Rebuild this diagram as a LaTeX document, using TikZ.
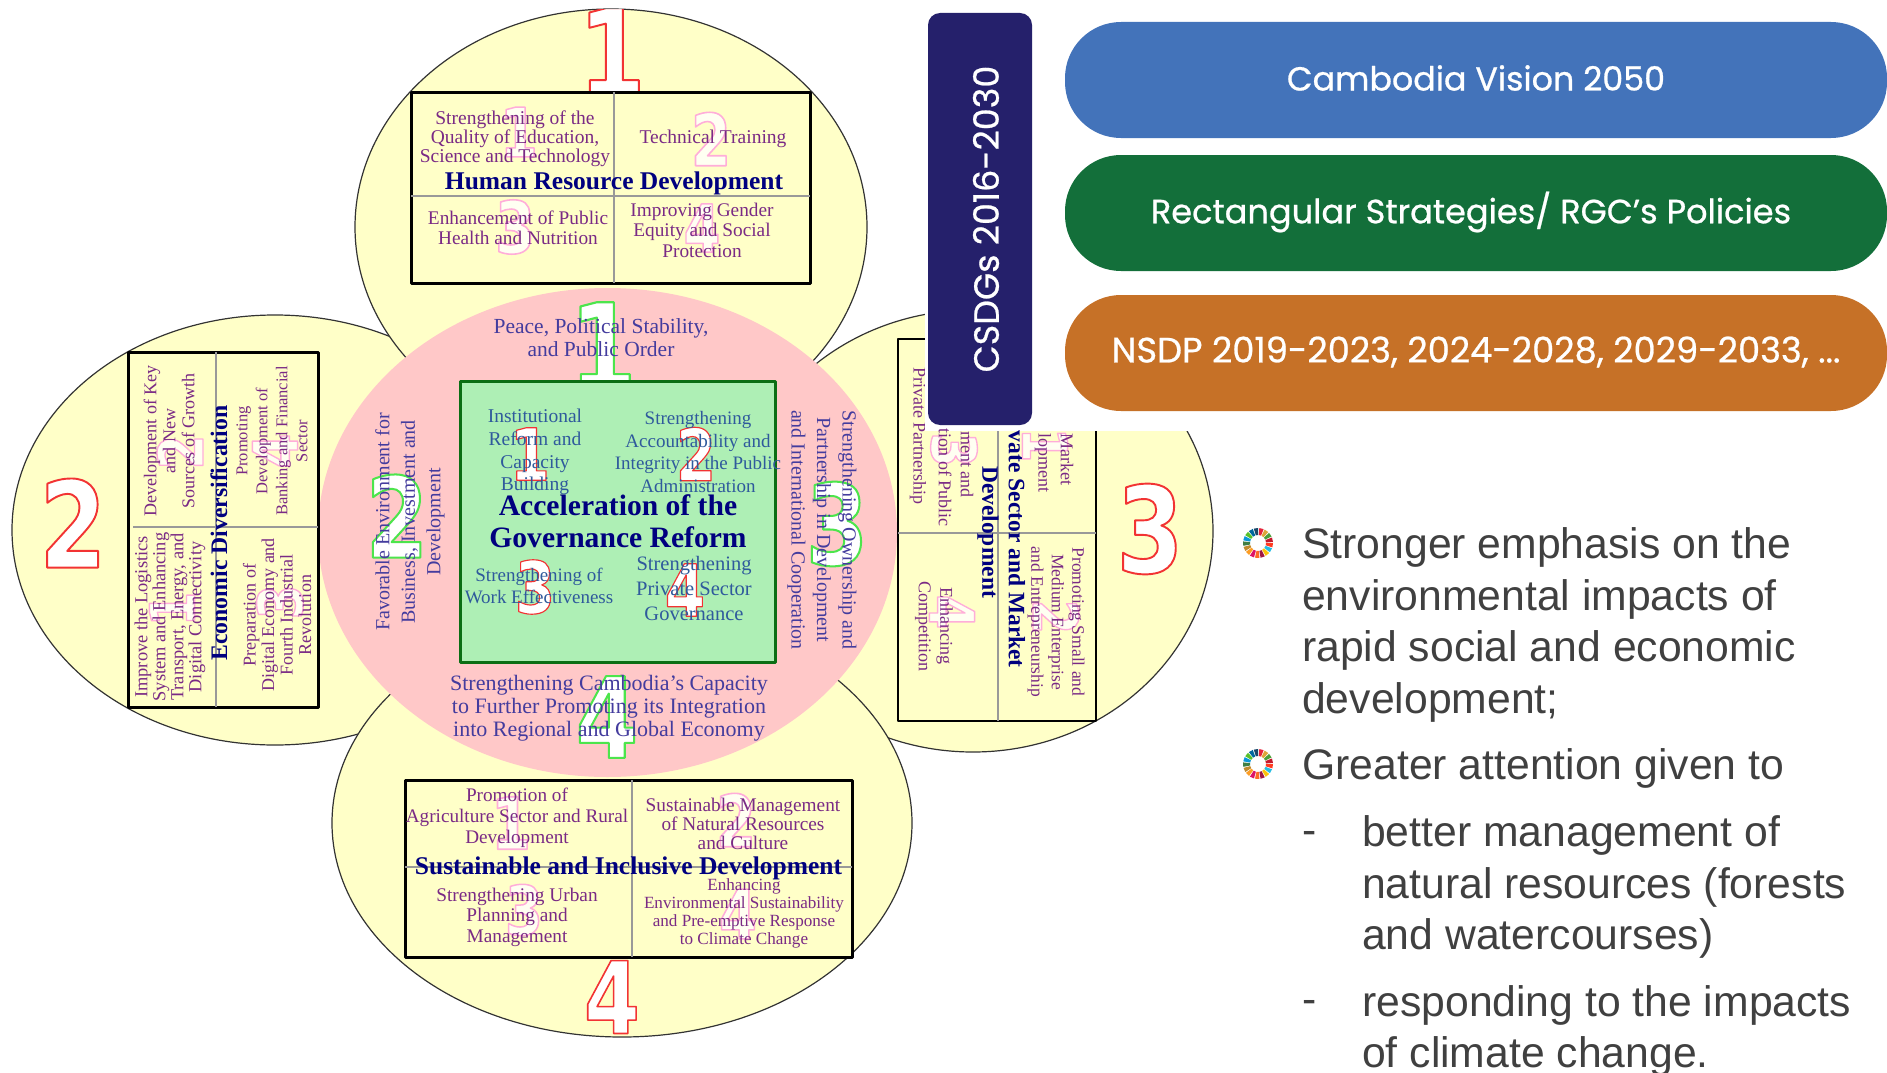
\documentclass[tikz,border=0pt]{standalone}
\usepackage{fontspec}
\setmainfont{Liberation Serif}
\newfontfamily\pillfont[FakeBold=0.7]{Poppins}
\newfontfamily\armfont{Liberation Sans}
\definecolor{petal}{HTML}{FFFFC8}
\definecolor{rosefill}{HTML}{FFC8C8}
\definecolor{mintfill}{HTML}{AEEFB5}
\definecolor{mintline}{HTML}{0B6E14}
\definecolor{plumtxt}{HTML}{7A2A85}
\definecolor{bluetxt}{HTML}{443C9E}
\definecolor{tealtxt}{HTML}{2F5A9C}
\definecolor{navytxt}{HTML}{00007F}
\definecolor{graytxt}{HTML}{404040}
\definecolor{barcol}{HTML}{25206B}
\definecolor{pillblue}{HTML}{4373BA}
\definecolor{pillgreen}{HTML}{136F3A}
\definecolor{pillorange}{HTML}{C67127}
\newcommand{\fs}[2]{\fontsize{#1}{#2}\selectfont}
% outlined digits: fill and stroke colour, size, stroke, digit
\newcommand{\outnum}[5]{{\font\numf="DejaVu Sans Bold:embolden=#4;extend=0.8" at #3pt\numf\special{pdf:bcolor #1 #2}#5\special{pdf:ecolor}}}
\newcommand{\rednum}[2]{\outnum{[1 1 1]}{[0.95 0.2 0.2]}{#1}{1.6}{#2}}
\newcommand{\grnnum}[2]{\outnum{[1 1 1]}{[0.3 0.9 0.3]}{#1}{1.8}{#2}}
\newcommand{\pnknum}[2]{\outnum{[1 1 0.95]}{[1 0.68 0.85]}{#1}{2.2}{#2}}
\newcommand{\sdgring}[2]{%
	\foreach \h [count=\i from 0] in {E5243B,DDA63A,4C9F38,C5192D,FF3A21,26BDE2,FCC30B,A21942,FD6925,DD1367,FD9D24,BF8B2E,3F7E44,0A97D9,56C02B,00689D,19486A}{
		\definecolor{ringc}{HTML}{\h}
		\pgfmathsetmacro{\a}{-85+\i*360/17}
		\fill[ringc] ([shift={(#1,#2)}]\a:15) -- ([shift={(#1,#2)}]\a+17:15) -- ([shift={(#1,#2)}]\a+17:8) -- ([shift={(#1,#2)}]\a:8) -- cycle;
	}}
\tikzset{
	petalshape/.style={fill=petal,draw=black!80,line width=1.2pt},
	blackbox/.style={draw=black,line width=3pt,fill=petal},
	divider/.style={draw=black!40,line width=1.8pt},
	numnode/.style={inner sep=0pt},
	plum/.style={text=plumtxt,align=center,inner sep=0pt},
	bluish/.style={text=bluetxt,align=center,inner sep=0pt},
	tealish/.style={text=tealtxt,align=center,inner sep=0pt},
	headline/.style={text=navytxt,align=center,inner sep=0pt},
	pilltxt/.style={text=white,inner sep=0pt,font=\pillfont\fs{33.3}{40}},
	sidetxt/.style={text=graytxt,align=left,anchor=west,inner sep=0pt,font=\armfont\fs{42.7}{51.6}}
}
\begin{document}
\begin{tikzpicture}[x=1pt,y=-1pt,line join=round]
	\useasboundingbox (0,0) rectangle (1887,1073);
	%Petals
	\draw[petalshape] (275,530) ellipse (263 and 215);
	\draw[petalshape] (973,531) ellipse (240 and 221);
	\draw[petalshape] (611,227) ellipse (256 and 218);
	\draw[petalshape] (622,823) ellipse (290 and 214);
	\node[numnode] (bigtwo) at (73,523) {\rednum{120}{2}};
	\node[numnode] (bigthree) at (1150,529) {\rednum{120}{3}};
	\node[numnode] (bigfour) at (612,997) {\rednum{100}{4}};
	\begin{scope}
		\clip (611,227) ellipse (256 and 218);
		\node[numnode] (bigone) at (612,52) {\rednum{120}{1}};
	\end{scope}
	%Centre
	\fill[rosefill] (607.5,532.5) ellipse (289.5 and 244.5);
	\node[numnode] (midone) at (603,346) {\grnnum{120}{1}};
	\node[numnode] (midtwo) at (397,516) {\grnnum{112}{2}};
	\node[numnode] (midthree) at (837,524) {\grnnum{112}{3}};
	\node[numnode] (midfour) at (607,717) {\grnnum{112}{4}};
	\node[bluish,font=\fs{21.5}{23}] (peace) at (601,338) {Peace, Political Stability,\\and Public Order};
	\node[bluish,font=\fs{20}{25.5},rotate=90] (favor) at (410,522) {Favorable Environment for\\Business, Investment and\\Development};
	\node[bluish,font=\fs{20}{25.5},rotate=-90] (owner) at (822,530) {Strengthening Ownership and\\Partnership in Development\\and International Cooperation};
	\node[bluish,font=\fs{22}{23}] (capacity) at (609,708) {Strengthening Cambodia's Capacity\\to Further Promoting its Integration\\into Regional and Global Economy};
	%Green box
	\draw[draw=mintline,fill=mintfill,line width=3pt] (460,381) rectangle (775,662);
	\node[numnode] (gone) at (530,454) {\rednum{72}{1}};
	\node[numnode] (gtwo) at (696,454) {\rednum{72}{2}};
	\node[numnode] (gthree) at (535,587) {\rednum{72}{3}};
	\node[numnode] (gfour) at (685,590) {\rednum{72}{4}};
	\node[tealish,font=\fs{19.5}{22.8}] (instit) at (535,452) {Institutional\\Reform and\\Capacity\\Building};
	\node[tealish,font=\fs{19}{22.8}] (account) at (698,452) {Strengthening\\Accountability and\\Integrity in the Public\\Administration};
	\node[tealish,font=\fs{19}{22}] (work) at (539,586) {Strengthening of\\Work Effectiveness};
	\node[tealish,font=\fs{20.5}{25}] (private) at (694,588) {Strengthening\\Private Sector\\Governance};
	\node[headline,font=\bfseries\fs{29.6}{32}] (govern) at (618,521) {Acceleration of the\\Governance Reform};
	%Human resource box
	\draw[blackbox] (411,92) rectangle (810,283);
	\draw[divider] (614,92) -- (614,283);
	\draw[divider] (411,196) -- (810,196);
	\node[numnode] (hone) at (519,132) {\pnknum{68}{1}};
	\node[numnode] (htwo) at (711,139) {\pnknum{72}{2}};
	\node[numnode] (hthree) at (515,227) {\pnknum{72}{3}};
	\node[numnode] (hfour) at (702,228) {\pnknum{66}{4}};
	\node[plum,font=\fs{19.5}{19}] (quality) at (515,139) {Strengthening of the\\Quality of Education,\\Science and Technology};
	\node[plum,font=\fs{19.5}{19}] (technical) at (713,139) {Technical Training};
	\node[plum,font=\fs{19.3}{20.5}] (health) at (518,228) {Enhancement of Public\\Health and Nutrition};
	\node[plum,font=\fs{19.3}{20.5}] (gender) at (702,230) {Improving Gender\\Equity and Social\\Protection};
	\node[headline,font=\bfseries\fs{25.5}{26}] (human) at (614,183) {Human Resource Development};
	%Economic box
	\draw[blackbox] (128,352) rectangle (318,707);
	\draw[divider] (216,352) -- (216,707);
	\draw[divider] (133,527) -- (318,527);
	\node[numnode,rotate=90] (eone) at (172,609) {\pnknum{62}{1}};
	\node[numnode,rotate=90] (etwo) at (180,452) {\pnknum{62}{2}};
	\node[numnode,rotate=90] (ethree) at (280,602) {\pnknum{62}{3}};
	\node[numnode,rotate=90] (efour) at (275,451) {\pnknum{62}{4}};
	\node[plum,font=\fs{18}{19},rotate=90] (keysrc) at (169,441) {Development of Key\\and New\\Sources of Growth};
	\node[plum,font=\fs{16.5}{20},rotate=90] (banking) at (272,441) {Promoting\\Development of\\Banking and Financial\\Sector};
	\node[plum,font=\fs{18.4}{18},rotate=90] (logist) at (170,617) {Improve the Logistics\\System and Enhancing\\Transport, Energy, and\\Digital Connectivity};
	\node[plum,font=\fs{18}{18.5},rotate=90] (digital) at (277,615) {Preparation of\\Digital Economy and\\Fourth Industrial\\Revolution};
	\node[headline,font=\bfseries\fs{23.7}{26},rotate=90] (econ) at (219,533) {Economic Diversification};
	%Private sector box
	\draw[blackbox,line width=2.5pt] (898,339) rectangle (1096,721);
	\draw[divider] (998,339) -- (998,721);
	\draw[divider] (898,533) -- (1096,533);
	\node[numnode,rotate=-90] (pone) at (1045,445) {\pnknum{62}{1}};
	\node[numnode,rotate=-90] (ptwo) at (1056,617) {\pnknum{62}{2}};
	\node[numnode,rotate=-90] (pthree) at (954,450) {\pnknum{62}{3}};
	\node[numnode,rotate=-90] (pfour) at (952,612) {\pnknum{62}{4}};
	\node[plum,font=\fs{17.5}{20.5},rotate=-90] (small) at (1056,622) {Promoting Small and\\Medium Enterprise\\and Entrepreneurship};
	\node[plum,font=\fs{18}{21.5},rotate=-90] (compete) at (934,626) {Enhancing\\Competition};
	\node[plum,font=\fs{18}{20},rotate=-90,anchor=east] (partner) at (918,505) {Private Partnership};
	%White panel
	\fill[white] (925,0) rectangle (1887,431);
	\node[plum,font=\fs{18}{20},rotate=-90,anchor=east] (market) at (1067,486) {Market};
	\node[plum,font=\fs{18}{20},rotate=-90,anchor=east] (lopment) at (1043,493) {lopment};
	\node[plum,font=\fs{18}{20},rotate=-90,anchor=east] (menand) at (967,498) {ment and};
	\node[plum,font=\fs{18}{20},rotate=-90,anchor=east] (tionof) at (945,527) {tion of Public};
	\node[headline,font=\bfseries\fs{23.5}{26},rotate=-90,anchor=east] (vate) at (1017,668) {vate Sector and Market};
	\node[headline,font=\bfseries\fs{23.5}{26},rotate=-90] (devel) at (988,532) {Development};
	%Sustainable box
	\draw[blackbox] (405,780) rectangle (852,957);
	\draw[divider] (632,780) -- (632,957);
	\draw[divider] (405,867) -- (852,867);
	\node[numnode] (sone) at (511,823) {\pnknum{72}{1}};
	\node[numnode] (stwo) at (736,820) {\pnknum{72}{2}};
	\node[numnode] (sthree) at (524,910) {\pnknum{68}{3}};
	\node[numnode] (sfour) at (738,914) {\pnknum{68}{4}};
	\node[plum,font=\fs{19.2}{21}] (agri) at (517,818) {Promotion of\\Agriculture Sector and Rural\\Development};
	\node[plum,font=\fs{19.3}{19}] (natural) at (743,824) {Sustainable Management\\of Natural Resources\\and Culture};
	\node[plum,font=\fs{19.3}{20.5}] (urban) at (517,917) {Strengthening Urban\\Planning and\\Management};
	\node[plum,font=\fs{17.1}{18}] (environ) at (744,913) {Enhancing\\Environmental Sustainability\\and Pre-emptive Response\\to Climate Change};
	\node[headline,font=\bfseries\fs{25.5}{26}] (inclus) at (628.5,868) {Sustainable and Inclusive Development};
	%Bar and pills
	\fill[barcol,rounded corners=12pt] (928,13) rectangle (1032,425);
	\node[pilltxt,rotate=90,font=\pillfont\fs{35}{40}] (csdg) at (986,219) {CSDGs 2016-2030};
	\fill[pillblue,rounded corners=56pt] (1065,22) rectangle (1887,138);
	\fill[pillgreen,rounded corners=56pt] (1065,155) rectangle (1887,271);
	\fill[pillorange,rounded corners=56pt] (1065,295) rectangle (1887,411);
	\node[pilltxt] (vision) at (1476,78) {Cambodia Vision 2050};
	\node[pilltxt,font=\pillfont\fs{33.6}{40}] (rect) at (1471,212) {Rectangular Strategies/ RGC’s Policies};
	\node[pilltxt,font=\pillfont\fs{35.3}{40}] (nsdp) at (1476,352) {NSDP 2019-2023, 2024-2028, 2029-2033, ...};
	%Bullets
	\sdgring{1258}{543}
	\sdgring{1258}{764}
	\node[sidetxt] (stronger) at (1302,625) {Stronger emphasis on the\\environmental impacts of\\rapid social and economic\\development;};
	\node[sidetxt] (greater) at (1302,768) {Greater attention given to};
	\node[sidetxt] (dashone) at (1302,838) {-};
	\node[sidetxt] (better) at (1362,887) {better management of\\natural resources (forests\\and watercourses)};
	\node[sidetxt] (dashtwo) at (1302,1007) {-};
	\node[sidetxt] (respond) at (1362,1031) {responding to the impacts\\of climate change.};
\end{tikzpicture}
\end{document}
